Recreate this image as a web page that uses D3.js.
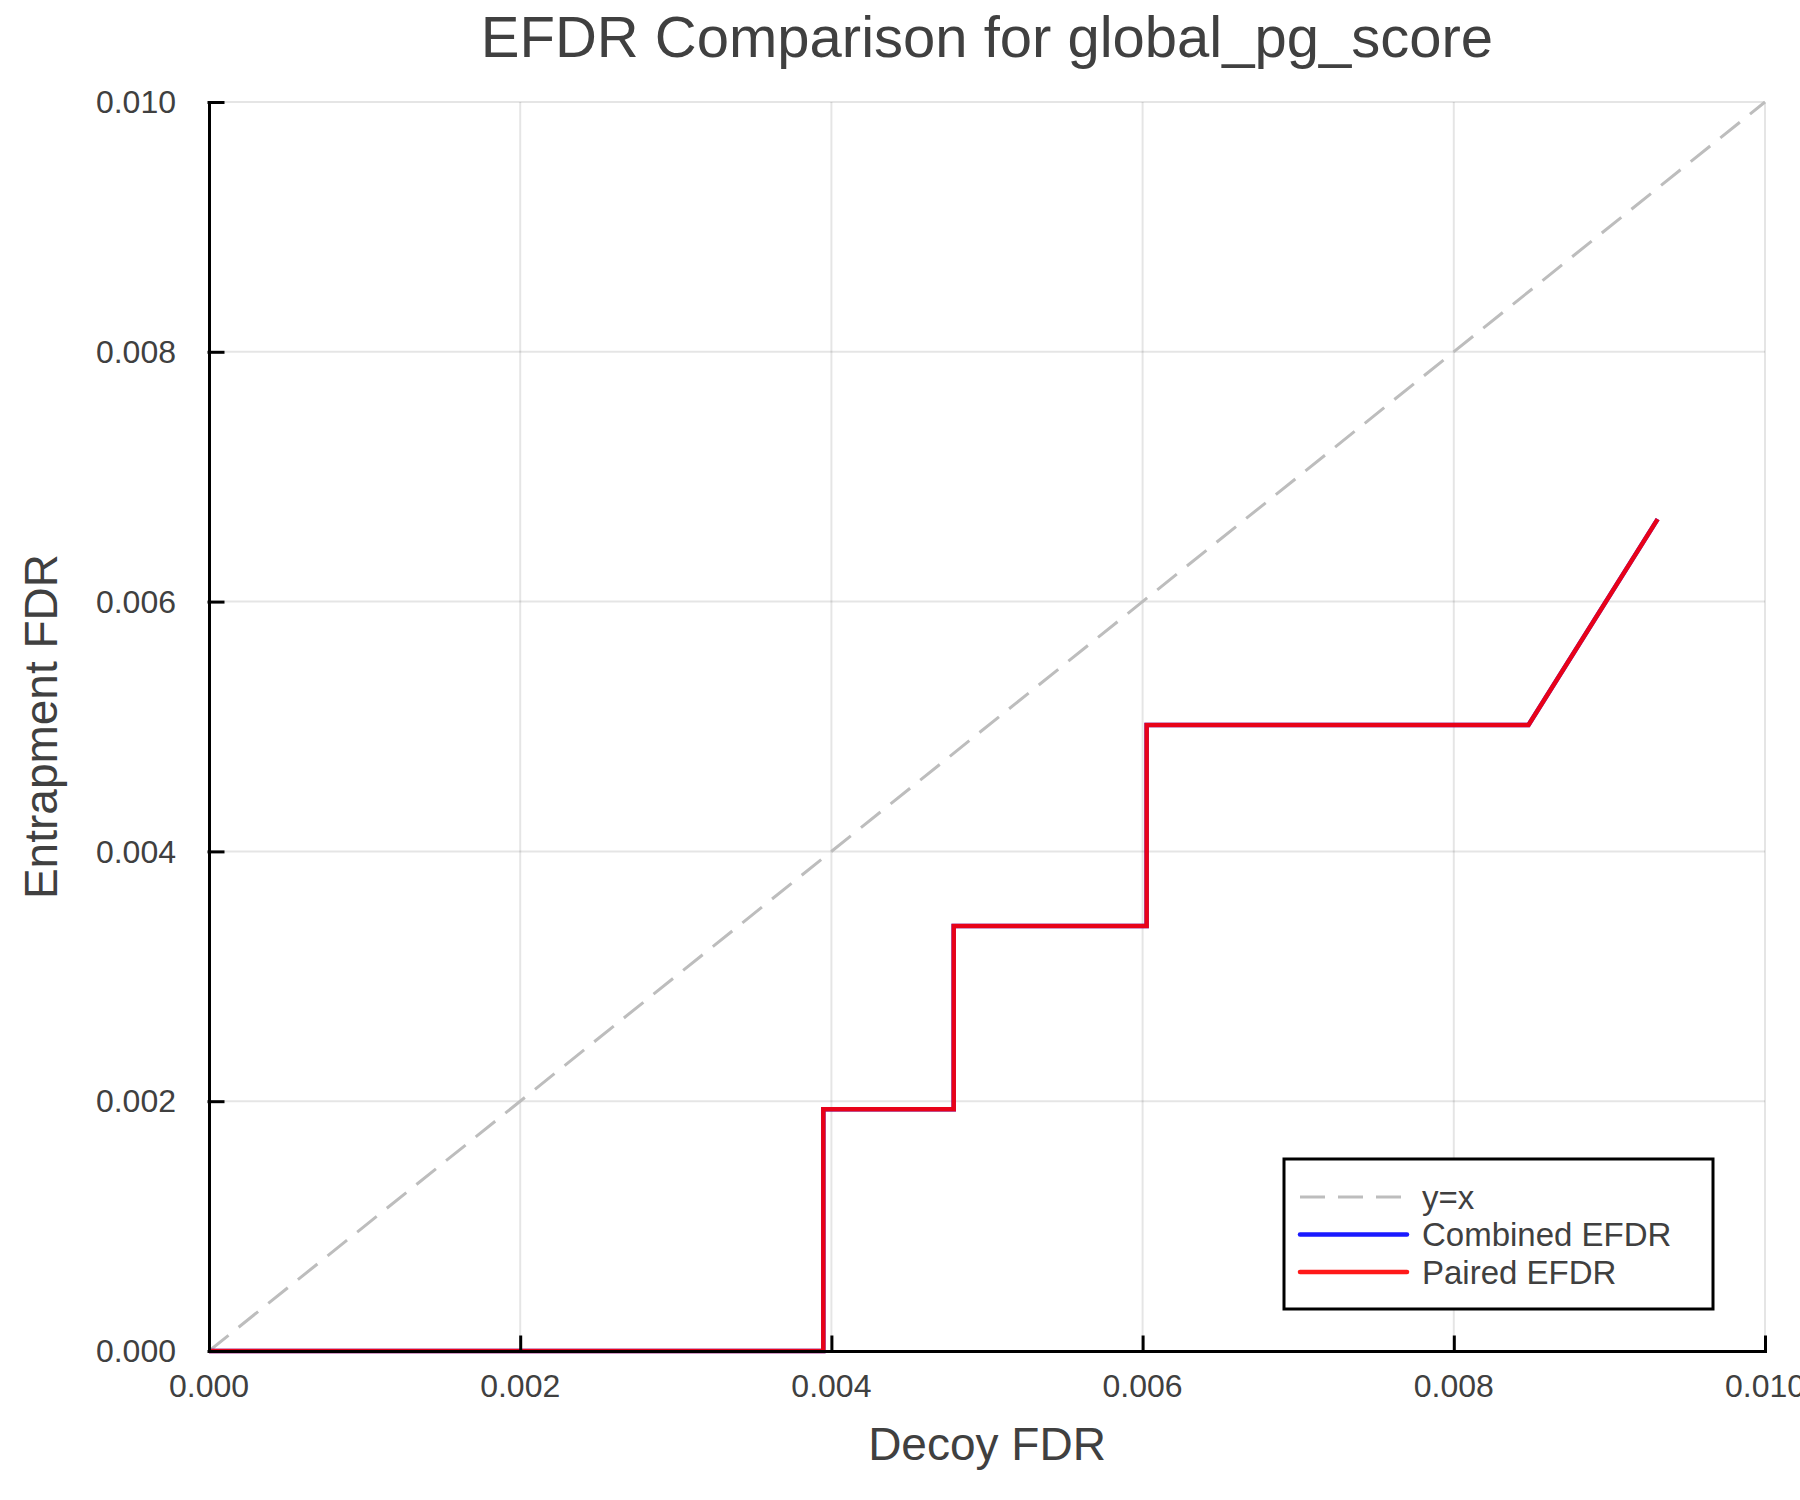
<!DOCTYPE html>
<html>
<head>
<meta charset="utf-8">
<script src="https://cdn.jsdelivr.net/npm/d3@7"></script>
<style>
  body { margin: 0; background: #fff; }
  text { font-family: "Liberation Sans", Arial, Helvetica, sans-serif; fill: #404040; }
</style>
</head>
<body>
<div id="container"></div>
<script>
/**
 * DATA
 * */
const decoyFdr     = [0, 0.003948, 0.003948, 0.004786, 0.004786, 0.006026, 0.006026, 0.00848, 0.00931]
const combinedEfdr = [0, 0,        0.001935, 0.001935, 0.003403, 0.003403, 0.005012, 0.005012, 0.00666]
const pairedEfdr   = [0, 0,        0.001935, 0.001935, 0.003403, 0.003403, 0.005012, 0.005012, 0.00666]
const identityLine = [0, 0.010]
const tickValues = [0, 0.002, 0.004, 0.006, 0.008, 0.010]
const legendNames = ["y=x", "Combined EFDR", "Paired EFDR"]

/**
 * CONSTANTS
 * */
const w = 1800
const h = 1500
const m = { top: 102, bottom: 149, left: 209, right: 35 }
const width = w - (m.left + m.right)
const height = h - (m.top + m.bottom)

const svg = d3.select("#container")
    .append("svg")
    .attr("width", w)
    .attr("height", h)

const xScale = d3.scaleLinear().domain([0, 0.010]).range([m.left, m.left + width])
const yScale = d3.scaleLinear().domain([0, 0.010]).range([m.top + height, m.top])

// grid
const grid = svg.append("g")
grid.selectAll("line.gx")
    .data(tickValues)
    .join("line")
    .attr("class", "gx")
    .attr("x1", d => xScale(d)).attr("x2", d => xScale(d))
    .attr("y1", yScale(0)).attr("y2", yScale(0.010))
    .attr("stroke", "#000").attr("stroke-opacity", 0.1).attr("stroke-width", 2)
grid.selectAll("line.gy")
    .data(tickValues)
    .join("line")
    .attr("class", "gy")
    .attr("y1", d => yScale(d)).attr("y2", d => yScale(d))
    .attr("x1", xScale(0)).attr("x2", xScale(0.010))
    .attr("stroke", "#000").attr("stroke-opacity", 0.1).attr("stroke-width", 2)

// series
const line = d3.line()
    .x(d => xScale(d[0]))
    .y(d => yScale(d[1]))

svg.append("path")
    .datum(identityLine.map(v => [v, v]))
    .attr("d", line)
    .attr("fill", "none")
    .attr("stroke", "#bdbdbd")
    .attr("stroke-width", 3)
    .attr("stroke-dasharray", "25,13")

svg.append("path")
    .datum(decoyFdr.map((x, i) => [x, combinedEfdr[i]]))
    .attr("d", line)
    .attr("fill", "none")
    .attr("stroke", "#0000ff")
    .attr("stroke-opacity", 0.9)
    .attr("stroke-width", 4.5)

svg.append("path")
    .datum(decoyFdr.map((x, i) => [x, pairedEfdr[i]]))
    .attr("d", line)
    .attr("fill", "none")
    .attr("stroke", "#ff0000")
    .attr("stroke-opacity", 0.9)
    .attr("stroke-width", 4.5)

// axes
const fmt = d3.format(".3f")
svg.append("g")
    .attr("transform", `translate(0,${yScale(0)})`)
    .call(d3.axisTop(xScale).tickValues(tickValues).tickFormat("").tickSize(14).tickSizeOuter(0))
svg.append("g")
    .attr("transform", `translate(${xScale(0)},0)`)
    .call(d3.axisRight(yScale).tickValues(tickValues).tickFormat("").tickSize(14).tickSizeOuter(0))
svg.selectAll(".domain, .tick line")
    .attr("stroke", "#000")
    .attr("stroke-width", 3)
    .attr("stroke-linecap", "square")

svg.append("g").selectAll("text")
    .data(tickValues)
    .join("text")
    .attr("x", d => xScale(d))
    .attr("y", yScale(0) + 46)
    .attr("text-anchor", "middle")
    .attr("font-size", 32)
    .text(d => fmt(d))

svg.append("g").selectAll("text")
    .data(tickValues)
    .join("text")
    .attr("x", xScale(0) - 33)
    .attr("y", d => yScale(d))
    .attr("dy", "0.35em")
    .attr("text-anchor", "end")
    .attr("font-size", 32)
    .text(d => fmt(d))

// titles
svg.append("text")
    .attr("x", m.left + width / 2)
    .attr("y", 57)
    .attr("text-anchor", "middle")
    .attr("font-size", 58)
    .text("EFDR Comparison for global_pg_score")

svg.append("text")
    .attr("x", m.left + width / 2)
    .attr("y", 1460)
    .attr("text-anchor", "middle")
    .attr("font-size", 46)
    .text("Decoy FDR")

svg.append("text")
    .attr("transform", `translate(57,${m.top + height / 2}) rotate(-90)`)
    .attr("text-anchor", "middle")
    .attr("font-size", 46)
    .text("Entrapment FDR")

// legend
const legend = svg.append("g").attr("transform", "translate(1284,1159)")
legend.append("rect")
    .attr("width", 429).attr("height", 150)
    .attr("fill", "#fff")
    .attr("stroke", "#000").attr("stroke-width", 3)

const legendStyles = [
    { color: "#bdbdbd", dash: "25,13", width: 3, opacity: 1 },
    { color: "#0000ff", dash: null, width: 4.5, opacity: 0.9 },
    { color: "#ff0000", dash: null, width: 4.5, opacity: 0.9 },
]
const entry = legend.selectAll("g.entry")
    .data(legendNames)
    .join("g")
    .attr("class", "entry")
    .attr("transform", (d, i) => `translate(0,${38 + i * 37.5})`)
entry.append("line")
    .attr("x1", 16).attr("x2", 123)
    .attr("stroke", (d, i) => legendStyles[i].color)
    .attr("stroke-width", (d, i) => legendStyles[i].width)
    .attr("stroke-opacity", (d, i) => legendStyles[i].opacity)
    .attr("stroke-dasharray", (d, i) => legendStyles[i].dash)
    .attr("stroke-linecap", (d, i) => legendStyles[i].dash ? "butt" : "round")
entry.append("text")
    .attr("x", 138)
    .attr("dy", "0.35em")
    .attr("font-size", 33)
    .text(d => d)
</script>
</body>
</html>
